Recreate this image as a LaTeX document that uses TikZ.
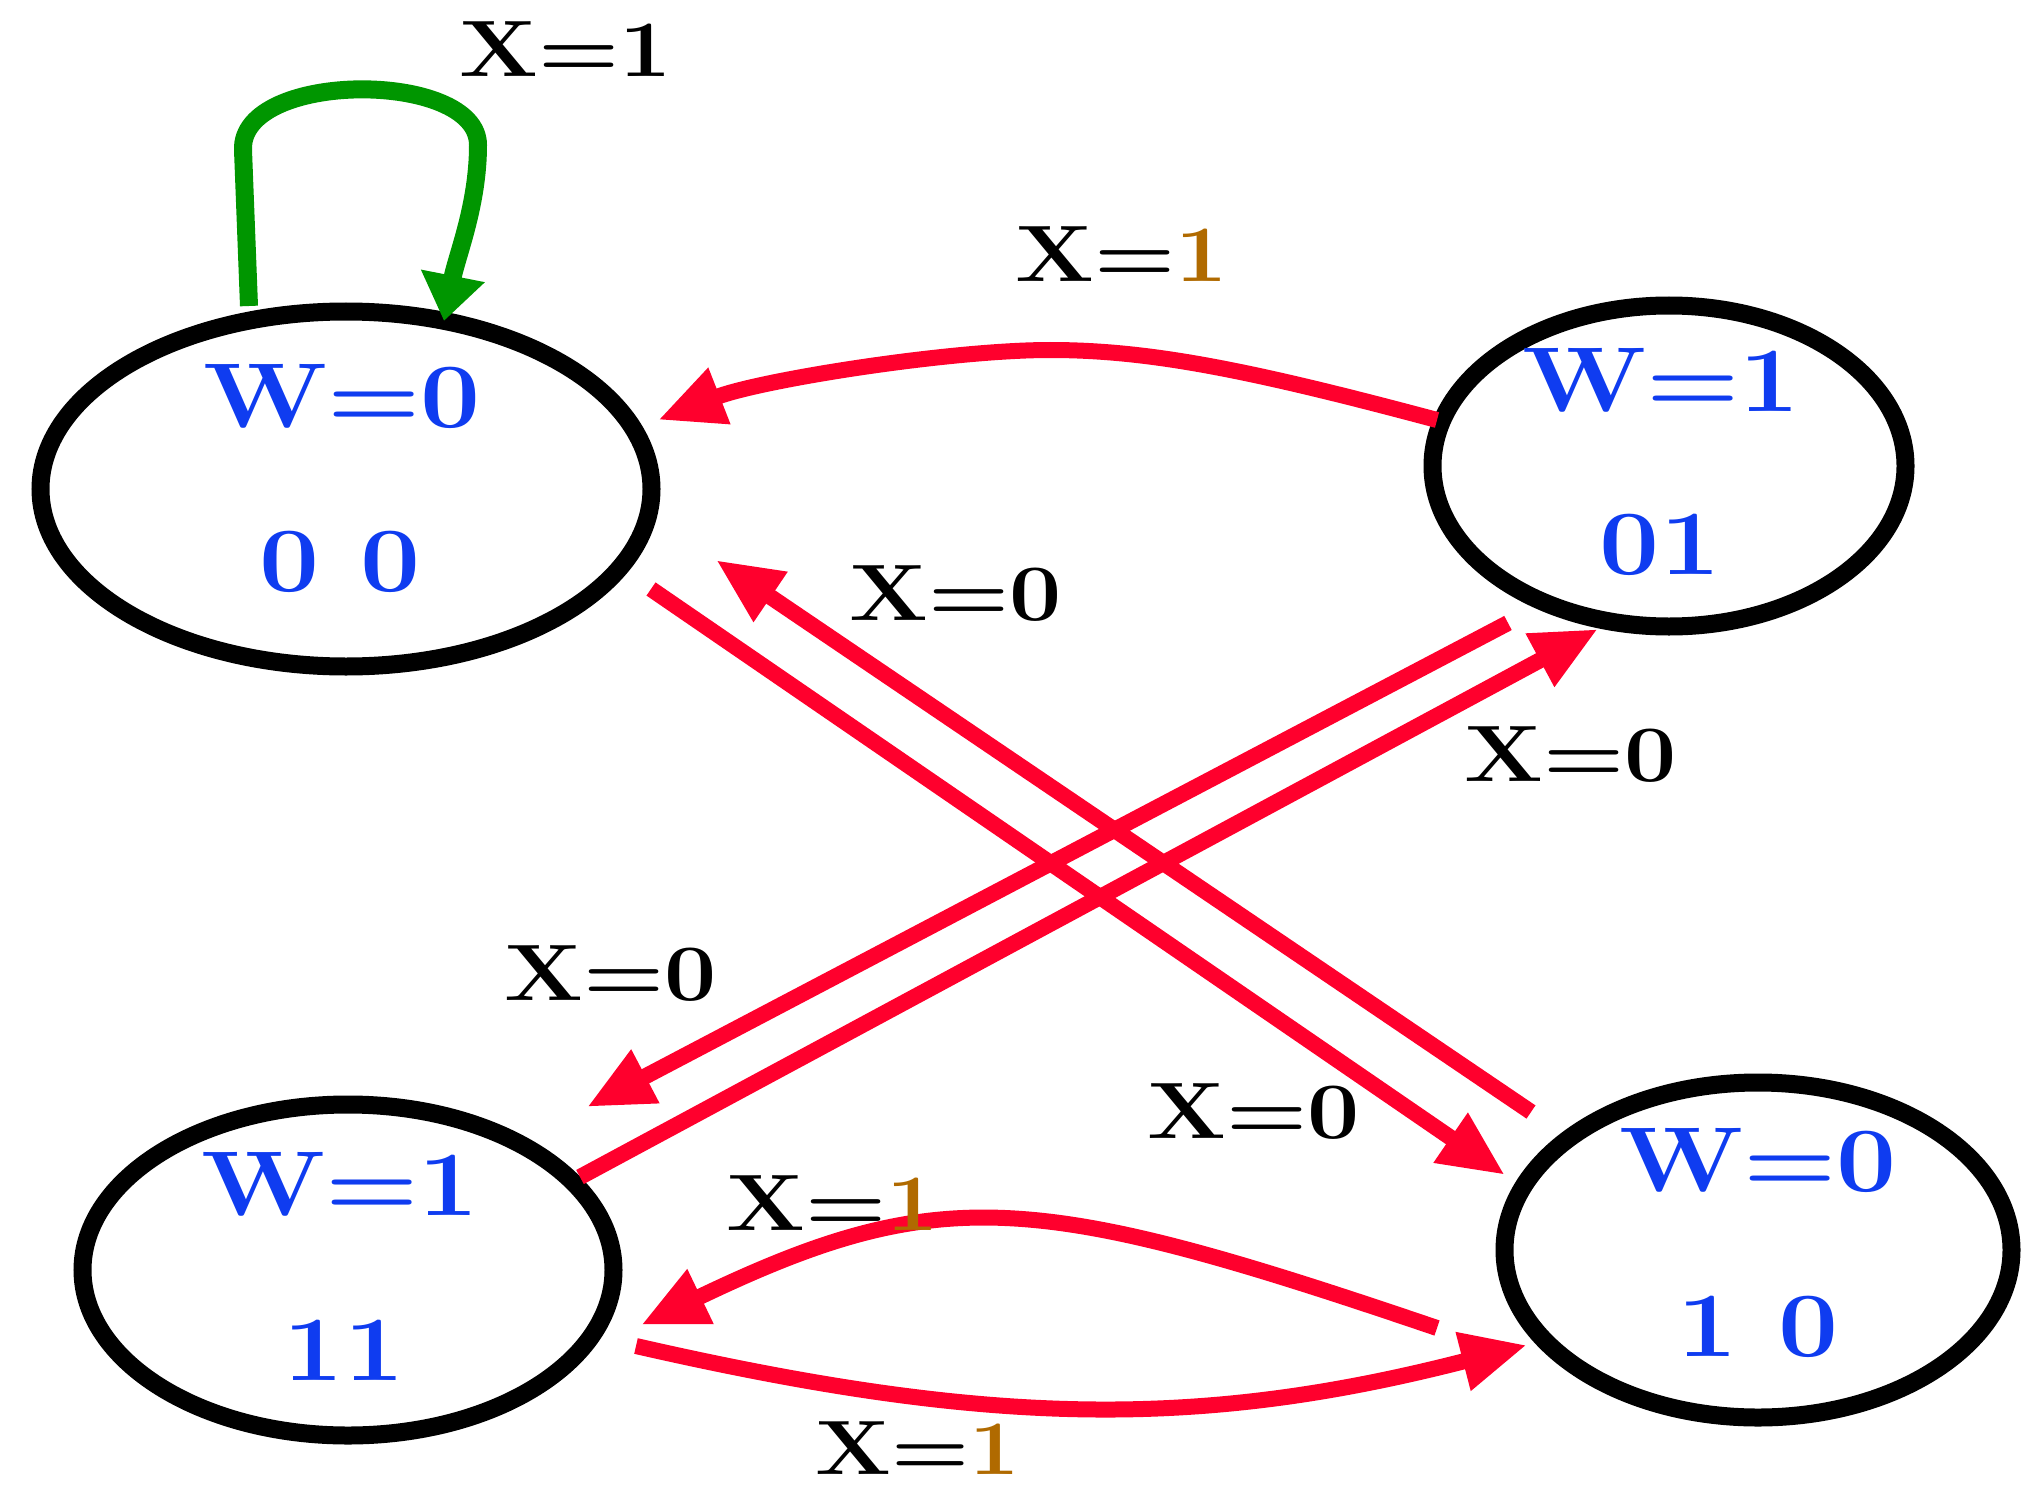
\documentclass[tikz,border=0pt]{standalone}
\usepackage{fontspec}
\usetikzlibrary{arrows.meta,shapes.geometric}
\definecolor{wblue}{RGB}{15,60,240}
\definecolor{arred}{RGB}{255,0,45}
\definecolor{loopgreen}{RGB}{0,150,0}
\definecolor{digbrown}{RGB}{176,106,0}
\newcommand{\widetxt}[1]{\scalebox{1.16}[1]{#1}}
\begin{document}
\begin{tikzpicture}[x=1pt,y=-1pt,
  statebox/.style={ellipse, draw=black, line width=18pt, inner sep=0pt},
  stxt/.style={text=wblue, inner sep=0pt, font=\fontsize{92}{100}\selectfont\bfseries},
  ltxt/.style={text=black, inner sep=0pt, font=\fontsize{80}{90}\selectfont\bfseries},
  redarr/.style={draw=arred, line width=16pt, -{Triangle[length=66pt,width=56pt]}},
  greenarr/.style={draw=loopgreen, line width=18pt, -{Triangle[length=46pt,width=62pt]}}
]
\useasboundingbox (0,0) rectangle (2023,1487);

% states
\node[statebox, minimum width=611pt, minimum height=355pt] (A) at (346,489) {};
\node[statebox, minimum width=473pt, minimum height=321pt] (B) at (1669,466) {};
\node[statebox, minimum width=531pt, minimum height=331pt] (C) at (348,1270) {};
\node[statebox, minimum width=507pt, minimum height=335pt] (D) at (1758,1250) {};

\node[stxt] (Aw) at (342,396) {\widetxt{W=0}};
\node[stxt] (Av) at (340,562) {\widetxt{0 0}};
\node[stxt] (Bw) at (1661,380) {\widetxt{W=1}};
\node[stxt] (Bv) at (1660,545) {\widetxt{01}};
\node[stxt] (Cw) at (340,1184) {\widetxt{W=1}};
\node[stxt] (Cv) at (344,1350) {\widetxt{11}};
\node[stxt] (Dw) at (1758,1160) {\widetxt{W=0}};
\node[stxt] (Dv) at (1758,1327) {\widetxt{1 0}};

% connector ends
\coordinate (ls) at (249,306);
\coordinate (le) at (444,321);
\coordinate (ba1) at (1437,420);
\coordinate (ba2) at (658,420);
\coordinate (ad1) at (651,589);
\coordinate (ad2) at (1505,1175);
\coordinate (da1) at (1531,1112);
\coordinate (da2) at (716,560);
\coordinate (bc1) at (1508,623);
\coordinate (bc2) at (587,1107);
\coordinate (cb1) at (580,1177);
\coordinate (cb2) at (1598,629);
\coordinate (dc1) at (1437,1328);
\coordinate (dc2) at (641,1325);
\coordinate (cd1) at (636,1346);
\coordinate (cd2) at (1527,1345);

% connectors
\draw[greenarr] (ls) -- (243,150) .. controls (240,70) and (478,70) .. (478,145) .. controls (478,205) and (457,255) .. (le);
\draw[redarr] (ba1) .. controls (1250,370) and (1150,350) .. (1050,350) .. controls (950,350) and (760,380) .. (ba2);
\draw[redarr] (ad1) -- (ad2);
\draw[redarr] (da1) -- (da2);
\draw[redarr] (bc1) -- (bc2);
\draw[redarr] (cb1) -- (cb2);
\draw[redarr] (dc1) .. controls (1037,1192) and (941,1181) .. (dc2);
\draw[redarr] (cd1) .. controls (986,1426) and (1197,1430) .. (cd2);

% labels
\node[ltxt] (l1) at (566,49) {\widetxt{X=1}};
\node[ltxt] (l2) at (1122,254) {\widetxt{X=\textcolor{digbrown}{1}}};
\node[ltxt] (l3) at (956,594) {\widetxt{X=0}};
\node[ltxt] (l4) at (1571,755) {\widetxt{X=0}};
\node[ltxt] (l5) at (611,974) {\widetxt{X=0}};
\node[ltxt] (l6) at (1254,1112) {\widetxt{X=0}};
\node[ltxt] (l7) at (833,1203) {\widetxt{X=\textcolor{digbrown}{1}}};
\node[ltxt, font=\fontsize{77}{86}\selectfont\bfseries] (l8) at (918,1448) {\widetxt{X=\textcolor{digbrown}{1}}};
\end{tikzpicture}
\end{document}
